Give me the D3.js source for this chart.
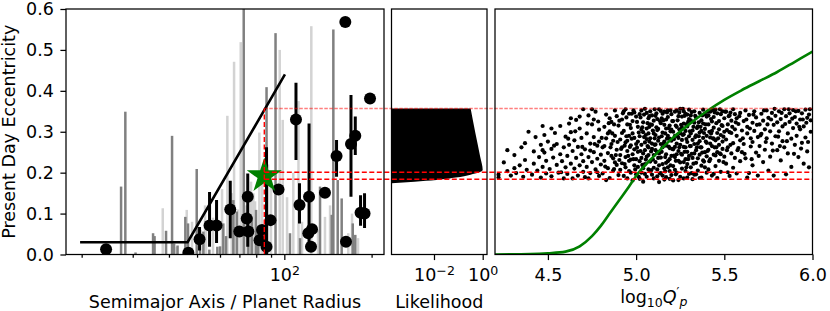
<!DOCTYPE html>
<html>
<head>
<meta charset="utf-8">
<script src="https://cdn.jsdelivr.net/npm/d3@7"></script>
<style>
	body { margin: 0; background: #fff; }
	text { font-family: "DejaVu Sans", sans-serif; }
</style>
</head>
<body>
<div id="chart-area"></div>
<script>

//************* Data *************//

// other planets: upper eccentricity bars (semimajor axis / planet radius, e)
const lightBarA = [38.08, 42.56, 46.07, 48.05, 53.29, 53.7, 56.77, 60.98, 63.61, 65.87, 67.09, 69.23, 70.74, 72.61, 73.49, 76.77, 78.18, 79.25, 82.0, 83.78, 87.86, 89.97, 96.4, 98.74, 102.2, 107.4, 111.9, 115.1, 123.9, 130.7, 138.1, 143.8, 166.2, 171.2, 179.6];
const lightBarE = [0.113, 0.018, 0.109, 0.08, 0.12, 0.06, 0.09, 0.16, 0.339, 0.15, 0.471, 0.11, 0.519, 0.2, 0.12, 0.178, 0.15, 0.13, 0.298, 0.18, 0.22, 0.2, 0.5, 0.329, 0.14, 0.2, 0.375, 0.08, 0.558, 0.06, 0.092, 0.12, 0.052, 0.1, 0.04];
const darkBarA = [27.35, 28.29, 30.68, 35.26, 35.68, 39.09, 41.0, 41.67, 42.83, 45.56, 46.55, 49.87, 51.2, 52.57, 55.13, 58.75, 60.02, 61.61, 62.95, 66.71, 68.54, 72.44, 75.14, 77.19, 79.89, 81.2, 86.83, 93.26, 104.6, 113.3, 132.8, 145.7, 147.6, 152.8, 157.7, 172.2, 175.7];
const darkBarE = [0.166, 0.349, 0.005, 0.052, 0.045, 0.058, 0.29, 0.027, 0.022, 0.092, 0.076, 0.209, 0.06, 0.056, 0.012, 0.019, 0.02, 0.076, 0.045, 0.133, 0.105, 0.62, 0.08, 0.092, 0.109, 0.07, 0.409, 0.541, 0.052, 0.04, 0.166, 0.097, 0.55, 0.182, 0.137, 0.076, 0.048];

// measured planets with error bars (null = no bar)
const ptA  = [24.28, 46.67, 51.0, 55.22, 58.38, 65.09, 74.79, 74.19, 75.15, 69.95, 82.12, 83.78, 86.83, 89.6, 95.5, 109.7, 112.8, 121.7, 121.0, 124.6, 123.6, 138.1, 151.4, 163.2, 169.8, 175.7, 183.2, 189.1, 162.3, 197.5];
const ptE  = [0.013, 0.004, 0.037, 0.071, 0.071, 0.110, 0.141, 0.088, 0.056, 0.056, 0.035, 0.060, 0.019, 0.084, 0.159, 0.330, 0.121, 0.141, 0.052, 0.062, 0.019, 0.151, 0.241, 0.031, 0.270, 0.290, 0.102, 0.100, 0.568, 0.381];
const ptLo = [null, null, 0.010, 0.019, 0.028, 0.040, 0.019, null, null, null, null, null, 0.0, null, null, 0.231, 0.076, 0.019, null, null, null, null, 0.190, null, 0.141, 0.243, 0.070, 0.065, null, null];
const ptHi = [null, null, 0.067, 0.153, 0.133, 0.180, 0.198, null, null, null, null, null, 0.262, null, null, 0.420, 0.174, 0.320, null, null, null, null, 0.280, null, 0.390, 0.337, 0.145, 0.150, null, null];

// e_max envelope
const envA = [19.75, 46.4, 100.5];
const envE = [0.03, 0.03, 0.44];

// this planet
const starA = 85.3, starE = 0.192;
const eUpper = 0.357, eMid = 0.201, eLow = 0.184;

// likelihood vs present eccentricity
const likeE = [0.174, 0.178, 0.182, 0.188, 0.195, 0.2065, 0.239, 0.297, 0.357];
const likeL = [1.8e-4, 1.6e-3, 0.0126, 0.079, 0.316, 1.0, 0.79, 0.5, 0.32];

// model eccentricity vs log10 Q'p
const curveQ = [4.20, 4.40, 4.50, 4.60, 4.68, 4.75, 4.80, 4.85, 4.90, 4.95, 5.00, 5.10, 5.20, 5.30, 5.40, 5.50, 5.60, 5.70, 5.80, 5.90, 6.00];
const curveE = [0.000, 0.001, 0.003, 0.007, 0.020, 0.045, 0.070, 0.100, 0.130, 0.160, 0.192, 0.240, 0.282, 0.318, 0.350, 0.378, 0.402, 0.424, 0.446, 0.471, 0.496];

// accepted samples (log10 Q'p, e)
const samples = [
[4.22,.188],[4.22,.195],[4.25,.225],[4.27,.204],[4.27,.255],[4.29,.193],
[4.31,.243],[4.31,.211],[4.32,.199],[4.34,.218],[4.35,.262],[4.36,.190],[4.37,.231],[4.37,.272],[4.38,.207],[4.39,.300],
[4.41,.195],[4.42,.252],[4.42,.222],[4.43,.287],[4.44,.205],[4.45,.238],[4.46,.268],[4.46,.188],[4.47,.214],[4.47,.255],[4.47,.314],[4.48,.249],[4.48,.292],[4.49,.229],[4.49,.198],
[4.50,.276],[4.51,.209],[4.52,.258],[4.52,.191],[4.52,.308],[4.53,.237],[4.54,.297],[4.55,.219],[4.55,.270],[4.56,.200],[4.57,.245],[4.57,.314],[4.58,.228],[4.59,.186],[4.59,.262],[4.60,.213],[4.60,.288],
[4.61,.241],[4.61,.197],[4.62,.320],[4.62,.268],[4.63,.222],[4.63,.299],[4.63,.333],[4.64,.186],[4.64,.253],[4.65,.210],[4.65,.279],[4.66,.236],[4.66,.329],[4.67,.193],[4.67,.263],[4.68,.308],[4.68,.218],[4.68,.337],[4.69,.245],[4.69,.285],[4.70,.202],[4.70,.228],[4.70,.355],
[4.71,.257],[4.71,.189],[4.72,.296],[4.72,.214],[4.73,.340],[4.73,.238],[4.73,.186],[4.74,.271],[4.74,.199],[4.74,.254],[4.75,.318],[4.75,.226],[4.75,.355],[4.76,.250],[4.76,.287],[4.76,.330],[4.77,.208],[4.77,.349],[4.78,.234],[4.78,.266],[4.78,.201],[4.79,.192],[4.79,.305],[4.79,.276],[4.80,.244],[4.80,.220],
[4.81,.262],[4.81,.198],[4.82,.312],[4.82,.229],[4.82,.265],[4.83,.284],[4.83,.342],[4.83,.182],[4.84,.211],[4.84,.248],[4.84,.296],[4.85,.301],[4.85,.187],[4.85,.333],[4.86,.270],[4.86,.324],[4.86,.241],[4.87,.235],[4.87,.205],[4.87,.278],[4.88,.290],[4.88,.352],[4.88,.225],[4.89,.256],[4.89,.219],[4.89,.338],[4.90,.315],[4.90,.194],
[4.91,.243],[4.91,.281],[4.91,.207],[4.92,.330],[4.92,.223],[4.92,.262],[4.92,.297],[4.93,.192],[4.93,.302],[4.93,.350],[4.94,.238],[4.94,.274],[4.94,.213],[4.94,.355],[4.95,.318],[4.95,.253],[4.95,.186],[4.95,.278],[4.96,.290],[4.96,.229],[4.96,.344],[4.96,.204],[4.97,.200],[4.97,.267],[4.97,.309],[4.97,.232],[4.98,.245],[4.98,.181],[4.98,.326],[4.98,.296],[4.99,.218],[4.99,.285],[4.99,.257],[4.99,.347],[5.00,.196],[5.00,.337],[5.00,.233],[5.00,.270],
[5.01,.251],[5.01,.312],[5.01,.214],[5.01,.276],[5.02,.289],[5.02,.185],[5.02,.343],[5.02,.228],[5.03,.236],[5.03,.268],[5.03,.200],[5.03,.305],[5.03,.352],[5.04,.323],[5.04,.247],[5.04,.299],[5.04,.178],[5.04,.211],[5.05,.221],[5.05,.356],[5.05,.274],[5.05,.197],[5.05,.255],[5.06,.190],[5.06,.308],[5.06,.239],[5.06,.346],[5.06,.282],[5.07,.262],[5.07,.333],[5.07,.208],[5.07,.243],[5.07,.296],[5.08,.284],[5.08,.227],[5.08,.350],[5.08,.318],[5.08,.203],[5.09,.195],[5.09,.258],[5.09,.317],[5.09,.340],[5.09,.271],[5.10,.243],[5.10,.296],[5.10,.212],[5.10,.186],[5.10,.327],
[5.11,.269],[5.11,.226],[5.11,.339],[5.11,.292],[5.11,.255],[5.12,.304],[5.12,.191],[5.12,.250],[5.12,.331],[5.12,.208],[5.13,.286],[5.13,.355],[5.13,.218],[5.13,.247],[5.13,.177],[5.14,.237],[5.14,.321],[5.14,.199],[5.14,.270],[5.14,.351],[5.15,.262],[5.15,.298],[5.15,.344],[5.15,.221],[5.15,.193],[5.16,.210],[5.16,.276],[5.16,.183],[5.16,.349],[5.16,.317],[5.17,.245],[5.17,.330],[5.17,.308],[5.17,.189],[5.17,.266],[5.17,.224],[5.18,.228],[5.18,.290],[5.18,.352],[5.18,.213],[5.18,.336],[5.19,.204],[5.19,.260],[5.19,.315],[5.19,.283],[5.19,.233],[5.19,.185],[5.20,.241],[5.20,.278],[5.20,.194],[5.20,.343],[5.20,.305],
[5.21,.257],[5.21,.326],[5.21,.216],[5.21,.300],[5.21,.181],[5.22,.290],[5.22,.349],[5.22,.238],[5.22,.207],[5.22,.263],[5.23,.200],[5.23,.271],[5.23,.312],[5.23,.352],[5.23,.245],[5.24,.229],[5.24,.338],[5.24,.253],[5.24,.182],[5.24,.285],[5.25,.190],[5.25,.296],[5.25,.356],[5.25,.268],[5.25,.225],[5.26,.244],[5.26,.280],[5.26,.210],[5.26,.337],[5.26,.310],[5.27,.320],[5.27,.263],[5.27,.186],[5.27,.226],[5.27,.294],[5.27,.350],[5.28,.233],[5.28,.302],[5.28,.344],[5.28,.262],[5.28,.204],[5.29,.221],[5.29,.275],[5.29,.251],[5.29,.342],[5.29,.313],[5.29,.188],[5.30,.331],[5.30,.197],[5.30,.289],[5.30,.241],[5.30,.354],
[5.31,.265],[5.31,.213],[5.31,.340],[5.31,.296],[5.31,.328],[5.32,.303],[5.32,.236],[5.32,.280],[5.32,.184],[5.33,.195],[5.33,.322],[5.33,.350],[5.33,.247],[5.33,.270],[5.34,.255],[5.34,.291],[5.34,.224],[5.34,.335],[5.34,.196],[5.35,.313],[5.35,.205],[5.35,.271],[5.35,.235],[5.36,.346],[5.36,.244],[5.36,.298],[5.36,.277],[5.36,.187],[5.37,.188],[5.37,.262],[5.37,.328],[5.37,.302],[5.37,.217],[5.38,.230],[5.38,.285],[5.38,.354],[5.38,.320],[5.39,.213],[5.39,.307],[5.39,.250],[5.39,.343],[5.40,.337],[5.40,.273],[5.40,.200],[5.40,.290],[5.40,.240],
[5.41,.318],[5.41,.256],[5.41,.208],[5.41,.340],[5.42,.349],[5.42,.286],[5.42,.233],[5.42,.271],[5.43,.302],[5.43,.193],[5.43,.265],[5.43,.325],[5.44,.336],[5.44,.244],[5.44,.310],[5.44,.197],[5.44,.283],[5.45,.216],[5.45,.279],[5.45,.354],[5.45,.242],[5.46,.297],[5.46,.250],[5.46,.187],[5.46,.345],[5.47,.326],[5.47,.268],[5.47,.229],[5.47,.306],[5.48,.343],[5.48,.292],[5.48,.202],[5.48,.245],[5.49,.314],[5.49,.258],[5.49,.276],[5.49,.350],[5.50,.333],[5.50,.239],[5.50,.300],
[5.51,.281],[5.51,.349],[5.51,.222],[5.52,.318],[5.52,.262],[5.52,.201],[5.53,.299],[5.53,.192],[5.53,.340],[5.54,.247],[5.54,.327],[5.54,.297],[5.55,.272],[5.55,.212],[5.55,.355],[5.56,.306],[5.56,.236],[5.56,.343],[5.57,.290],[5.57,.333],[5.57,.198],[5.58,.260],[5.58,.319],[5.59,.346],[5.59,.279],[5.59,.228],[5.60,.303],[5.60,.250],
[5.61,.326],[5.61,.270],[5.62,.352],[5.62,.235],[5.63,.296],[5.63,.312],[5.63,.188],[5.64,.199],[5.64,.341],[5.65,.264],[5.65,.284],[5.66,.322],[5.66,.218],[5.66,.275],[5.67,.350],[5.67,.302],[5.68,.249],[5.68,.335],[5.69,.287],[5.69,.193],[5.70,.318],[5.70,.265],
[5.71,.344],[5.71,.295],[5.72,.226],[5.72,.327],[5.73,.306],[5.73,.256],[5.74,.352],[5.74,.284],[5.75,.205],[5.75,.334],[5.76,.301],[5.76,.239],[5.77,.346],[5.77,.271],[5.78,.317],[5.78,.193],[5.79,.339],[5.79,.289],[5.80,.255],[5.80,.323],
[5.81,.350],[5.81,.301],[5.82,.230],[5.82,.331],[5.83,.277],[5.83,.313],[5.84,.355],[5.84,.262],[5.85,.196],[5.85,.338],[5.86,.296],[5.86,.247],[5.87,.324],[5.87,.345],[5.88,.283],[5.88,.214],[5.89,.309],[5.89,.353],[5.90,.268],[5.90,.336],
[5.91,.320],[5.91,.290],[5.92,.351],[5.92,.238],[5.93,.330],[5.93,.306],[5.94,.273],[5.94,.345],[5.95,.222],[5.95,.313],[5.96,.354],[5.96,.286],[5.97,.334],[5.97,.252],[5.98,.342],[5.98,.213],[5.99,.300],[5.99,.328],
[4.535,.266],[4.575,.201],[4.615,.283],[4.655,.301],[4.695,.263],[4.725,.320],[4.765,.270],[4.785,.325],[4.805,.285],[4.825,.215],[4.845,.321],
[4.855,.262],[4.865,.296],[4.875,.318],[4.885,.243],[4.895,.275],[4.905,.327],[4.915,.258],[4.925,.345],[4.935,.221],[4.945,.289],[4.905,.231],[4.875,.209],[4.935,.266],[4.945,.335],
[4.955,.241],[4.965,.317],[4.975,.283],[4.985,.352],[4.995,.208],[5.005,.261],[5.015,.298],[5.025,.335],[5.035,.219],[5.045,.287],[4.965,.263],[4.985,.233],[5.005,.324],[5.025,.253],[5.045,.342],[5.035,.311],[4.975,.344],[5.015,.190],
[5.055,.232],[5.065,.321],[5.075,.276],[5.085,.252],[5.095,.303],[5.105,.355],[5.115,.311],[5.125,.278],[5.135,.326],[5.145,.289],[5.055,.292],[5.065,.265],[5.075,.338],[5.085,.206],[5.095,.232],[5.105,.268],[5.115,.345],[5.125,.236],[5.135,.198],[5.145,.251],[5.075,.312],[5.105,.284],[5.125,.307],[5.145,.333],
[5.155,.271],[5.165,.296],[5.175,.347],[5.185,.264],[5.195,.301],[5.205,.326],[5.215,.242],[5.225,.315],[5.235,.289],[5.245,.347],[5.155,.328],[5.165,.238],[5.175,.283],[5.185,.309],[5.195,.352],[5.205,.258],[5.215,.282],[5.225,.229],[5.235,.328],[5.245,.306],[5.165,.203],[5.195,.218],[5.225,.196],[5.245,.262],
[5.255,.317],[5.265,.292],[5.275,.339],[5.285,.282],[5.295,.324],[5.305,.265],[5.315,.348],[5.325,.312],[5.335,.287],[5.345,.309],[5.255,.246],[5.265,.356],[5.275,.251],[5.285,.318],[5.295,.233],[5.305,.301],[5.315,.246],[5.325,.222],[5.335,.339],[5.345,.262],[5.285,.213],[5.315,.199],
[5.355,.323],[5.365,.262],[5.375,.340],[5.385,.297],[5.395,.318],[5.405,.253],[5.415,.300],[5.425,.331],[5.435,.284],[5.445,.347],[5.355,.289],[5.365,.312],[5.375,.249],[5.385,.227],[5.395,.276],[5.405,.349],[5.415,.228],[5.425,.296],[5.435,.353],[5.445,.262],
[5.455,.321],[5.465,.284],[5.475,.355],[5.485,.316],[5.495,.288],[5.505,.349],[5.515,.304],[5.525,.338],[5.535,.268],[5.545,.312],[5.455,.262],[5.475,.247],[5.495,.226],[5.515,.255],[5.535,.347],
[5.565,.323],[5.585,.338],[5.605,.284],[5.625,.330],[5.645,.308],[5.665,.342],[5.685,.317],[5.705,.291],[5.725,.352],[5.745,.318],[5.765,.330],[5.785,.356],[5.805,.288],[5.825,.346],[5.845,.319],[5.865,.355],[5.885,.332],[5.905,.350],[5.925,.312],[5.945,.330],[5.965,.322],[5.985,.355],
[5.575,.255],[5.615,.246],[5.655,.233],[5.695,.241],[5.735,.275],[5.775,.254],[5.815,.265],[5.855,.277],[5.895,.246],[5.935,.259],[5.975,.275]
];

// tick values
const eTicks = [0, 0.1, 0.2, 0.3, 0.4, 0.5, 0.6];
const aMinorTicks = [20, 30, 40, 50, 60, 70, 80, 90, 200];
const aMajorTicks = [100];
const likeTicks = [0.01, 1];
const qTicks = [4.5, 5.0, 5.5, 6.0];


//************* Canvas Set Up *************//

const W = 830, H = 311;
const yTop = 9, yBot = 254.5;
const panelA = [66, 384], panelL = [391.5, 487], panelQ = [495, 812.5];
const fontSize = 17.5;

let svg = d3.select('#chart-area').append('svg')
	.attr('width', W)
	.attr('height', H);

let y = d3.scaleLinear().domain([0, 0.6]).range([yBot, yTop]);
let xA = d3.scaleLog().domain([17.66, 220.7]).range(panelA);
let xL = d3.scaleLog().domain([1.8e-4, 1.502]).range(panelL);
let xQ = d3.scaleLinear().domain([4.2, 6.0]).range(panelQ);

// clip paths for the three panels
let defs = svg.append('defs');
[['clipA', panelA], ['clipL', panelL], ['clipQ', panelQ]].forEach(c => {
	defs.append('clipPath').attr('id', c[0])
		.append('rect')
		.attr('x', c[1][0]).attr('y', yTop)
		.attr('width', c[1][1] - c[1][0]).attr('height', yBot - yTop);
});

let gA = svg.append('g').attr('clip-path', 'url(#clipA)');
let gL = svg.append('g').attr('clip-path', 'url(#clipL)');
let gQ = svg.append('g').attr('clip-path', 'url(#clipQ)');


//************* Left panel *************//

function drawBars(arrA, arrE, color) {
	gA.selectAll(null)
		.data(arrA)
		.enter()
		.append('rect')
			.attr('x', d => xA(d) - 1.25)
			.attr('width', 2.5)
			.attr('y', (d, i) => y(arrE[i]))
			.attr('height', (d, i) => y(0) - y(arrE[i]))
			.attr('fill', color);
}
drawBars(lightBarA, lightBarE, '#d3d3d3');
drawBars(darkBarA, darkBarE, '#808080');

// envelope line
gA.append('path')
	.datum(envA)
	.attr('d', d3.line().x(d => xA(d)).y((d, i) => y(envE[i])))
	.attr('fill', 'none')
	.attr('stroke', 'black')
	.attr('stroke-width', 2.6);

// error bars
gA.selectAll(null)
	.data(ptA.filter((d, i) => ptLo[i] !== null))
	.enter()
	.append('line')
		.attr('x1', d => xA(d))
		.attr('x2', d => xA(d))
		.attr('y1', d => y(ptLo[ptA.indexOf(d)]))
		.attr('y2', d => y(ptHi[ptA.indexOf(d)]))
		.attr('stroke', 'black')
		.attr('stroke-width', 3);

// points
gA.selectAll(null)
	.data(ptA)
	.enter()
	.append('circle')
		.attr('cx', d => xA(d))
		.attr('cy', (d, i) => y(ptE[i]))
		.attr('r', 6)
		.attr('fill', 'black');

// star
svg.append('path')
	.attr('d', d3.symbol(d3.symbolStar, 18.5 * 18.5 / 0.8908)())
	.attr('transform', 'translate(' + xA(starA) + ',' + y(starE) + ')')
	.attr('fill', '#008000');


//************* Middle panel *************//

gL.append('path')
	.datum(likeE)
	.attr('d', d3.area()
		.curve(d3.curveMonotoneY)
		.y(d => y(d))
		.x0(panelL[0])
		.x1((d, i) => xL(likeL[i])))
	.attr('fill', 'black');


//************* Right panel *************//

gQ.selectAll(null)
	.data(samples)
	.enter()
	.append('circle')
		.attr('cx', d => xQ(d[0]))
		.attr('cy', d => y(d[1]))
		.attr('r', 2.1)
		.attr('fill', 'black');

gQ.append('path')
	.datum(curveQ)
	.attr('d', d3.line().curve(d3.curveMonotoneX).x(d => xQ(d)).y((d, i) => y(curveE[i])))
	.attr('fill', 'none')
	.attr('stroke', '#008000')
	.attr('stroke-width', 2.6);


//************* Reference lines *************//

svg.append('line')
	.attr('x1', xA(starA)).attr('x2', xA(starA))
	.attr('y1', y(0)).attr('y2', y(eUpper))
	.attr('stroke', 'red').attr('stroke-width', 1.4)
	.attr('stroke-dasharray', '5,2.5');

svg.append('line')
	.attr('x1', xA(starA)).attr('x2', panelQ[1])
	.attr('y1', y(eUpper)).attr('y2', y(eUpper))
	.attr('stroke', 'red').attr('stroke-opacity', 0.5).attr('stroke-width', 1.4)
	.attr('stroke-dasharray', '3.5,1.5');

[eMid, eLow].forEach(e => {
	svg.append('line')
		.attr('x1', xA(starA)).attr('x2', panelQ[1])
		.attr('y1', y(e)).attr('y2', y(e))
		.attr('stroke', 'red').attr('stroke-width', 1.4)
		.attr('stroke-dasharray', '5,2.5');
});


//************* Frames and axes *************//

[panelA, panelL, panelQ].forEach(p => {
	svg.append('rect')
		.attr('x', p[0]).attr('y', yTop)
		.attr('width', p[1] - p[0]).attr('height', yBot - yTop)
		.attr('fill', 'none')
		.attr('stroke', 'black')
		.attr('stroke-width', 1.25);
});

function styleAxis(g) {
	g.select('.domain').remove();
	g.attr('font-family', '"DejaVu Sans", sans-serif').attr('font-size', fontSize);
	g.selectAll('.tick line').attr('stroke-width', 1.25);
	g.selectAll('.tick text').attr('fill', 'black');
}

function powerLabel(g, expOf) {
	g.selectAll('.tick text').each(function(d) {
		let t = d3.select(this).text(null);
		t.append('tspan').text('10');
		t.append('tspan').attr('dy', '-0.5em').attr('font-size', '0.72em').text(expOf(d));
	});
}

// y axis
let yAxisCall = d3.axisLeft(y).tickValues(eTicks).tickFormat(d3.format('.1f'))
	.tickSize(5.6).tickPadding(6.5);
svg.append('g')
	.attr('transform', 'translate(' + panelA[0] + ',0)')
	.call(yAxisCall)
	.call(styleAxis);

// semimajor axis: minor then major ticks
svg.append('g')
	.attr('transform', 'translate(0,' + yBot + ')')
	.call(d3.axisBottom(xA).tickValues(aMinorTicks).tickFormat('').tickSize(3.2))
	.call(styleAxis);
svg.append('g')
	.attr('transform', 'translate(0,' + yBot + ')')
	.call(d3.axisBottom(xA).tickValues(aMajorTicks).tickSize(5.6).tickPadding(8.5))
	.call(styleAxis)
	.call(g => powerLabel(g, d => Math.round(Math.log10(d))));

// likelihood
svg.append('g')
	.attr('transform', 'translate(0,' + yBot + ')')
	.call(d3.axisBottom(xL).tickValues(likeTicks).tickSize(5.6).tickPadding(8.5))
	.call(styleAxis)
	.call(g => powerLabel(g, d => {
		let p = Math.round(Math.log10(d));
		return p < 0 ? '\u2212' + (-p) : String(p);
	}));

// log10 Q'p
svg.append('g')
	.attr('transform', 'translate(0,' + yBot + ')')
	.call(d3.axisBottom(xQ).tickValues(qTicks).tickFormat(d3.format('.1f')).tickSize(5.6).tickPadding(8.5))
	.call(styleAxis);


//************* Labels *************//

svg.append('text')
	.attr('x', -(yTop + yBot) / 2)
	.attr('y', 15)
	.attr('transform', 'rotate(-90)')
	.attr('text-anchor', 'middle')
	.attr('font-size', fontSize)
	.text('Present Day Eccentricity');

svg.append('text')
	.attr('x', (panelA[0] + panelA[1]) / 2)
	.attr('y', 308)
	.attr('text-anchor', 'middle')
	.attr('font-size', fontSize)
	.text('Semimajor Axis / Planet Radius');

svg.append('text')
	.attr('x', (panelL[0] + panelL[1]) / 2)
	.attr('y', 308)
	.attr('text-anchor', 'middle')
	.attr('font-size', fontSize)
	.text('Likelihood');

let qLabel = svg.append('text')
	.attr('x', (panelQ[0] + panelQ[1]) / 2)
	.attr('y', 303)
	.attr('text-anchor', 'middle')
	.attr('font-size', fontSize);
qLabel.append('tspan').text('log');
qLabel.append('tspan').attr('font-size', '12.5px').attr('dy', 4).text('10');
qLabel.append('tspan').attr('font-style', 'italic').attr('dy', -4).text('Q');
qLabel.append('tspan').attr('font-size', '12.5px').attr('dy', -7).text('\u2032');
qLabel.append('tspan').attr('font-size', '12.5px').attr('font-style', 'italic').attr('dy', 10).text('p');

</script>
</body>
</html>
